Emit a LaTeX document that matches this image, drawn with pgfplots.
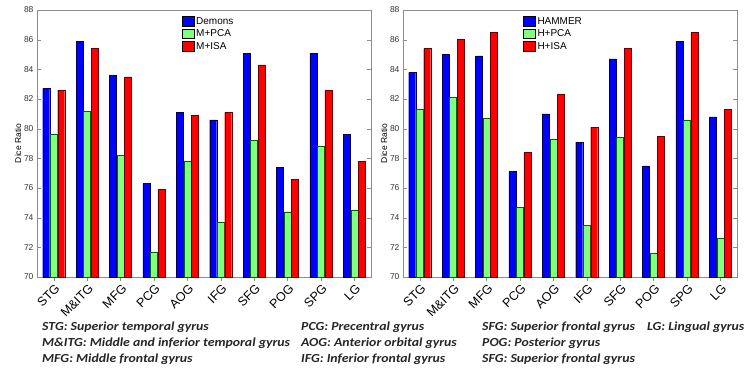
\documentclass[border=0pt]{standalone}
\usepackage{fontspec}
\setmainfont{Liberation Sans}
\newfontfamily\calib[FakeStretch=1.12]{Carlito}
\usepackage{pgfplots}
\pgfplotsset{compat=1.18}
\definecolor{mblue}{RGB}{0,0,255}
\definecolor{mgreen}{RGB}{128,255,128}
\definecolor{mred}{RGB}{255,0,0}
\definecolor{axgray}{RGB}{140,140,140}
\pgfplotsset{
  mystyle/.style={
    scale only axis, anchor=south west,
    width=334pt, height=267pt,
    ymin=70, ymax=88, ytick={70,72,...,88},
    xmin=0.5, xmax=10.5, xtick={1,...,10},
    xticklabels={STG,M\&ITG,MFG,PCG,AOG,IFG,SFG,POG,SPG,LG},
    xticklabel style={rotate=45, anchor=north east, font=\fontsize{12.5}{12.5}\selectfont, inner sep=1pt, yshift=-1pt},
    yticklabel style={font=\fontsize{8.5}{9}\selectfont, text=black!80},
    ylabel={Dice Ratio}, ylabel style={font=\fontsize{8.5}{9}\selectfont, yshift=-4pt},
    /pgf/number format/assume math mode=true,
    axis line style={axgray}, tick style={axgray}, major tick length=4pt,
    tick align=inside, xtick pos=bottom, ytick pos=both,
    ybar, bar width=7pt,
    legend cell align=left,
    legend style={draw=none, fill=none, font=\fontsize{10}{11}\selectfont, row sep=0pt, inner sep=1pt},
    legend image code/.code={\draw[##1, draw=black] (0pt,-4.5pt) rectangle (12pt,5pt);},
  }
}
\begin{document}
\begin{tikzpicture}
\useasboundingbox (0,0) rectangle (752pt,378pt);
\begin{axis}[mystyle, at={(37pt,101pt)},
  legend style={at={(0.43,0.985)}, anchor=north west}]
\addplot[fill=mblue, draw=black!70!blue, line width=0.4pt, bar shift=-7.5pt] coordinates {(1,82.7) (2,85.9) (3,83.6) (4,76.3) (5,81.1) (6,80.6) (7,85.1) (8,77.4) (9,85.1) (10,79.6)};
\addplot[fill=mgreen, draw=black!60!green, line width=0.4pt, bar shift=0pt] coordinates {(1,79.6) (2,81.2) (3,78.2) (4,71.7) (5,77.8) (6,73.7) (7,79.2) (8,74.4) (9,78.8) (10,74.5)};
\addplot[fill=mred, draw=black!60!red, line width=0.4pt, bar shift=7.5pt] coordinates {(1,82.6) (2,85.4) (3,83.5) (4,75.9) (5,80.9) (6,81.1) (7,84.3) (8,76.6) (9,82.6) (10,77.8)};
\legend{Demons,M+PCA,M+ISA}
\end{axis}
\begin{axis}[mystyle, at={(403pt,101pt)},
  legend style={at={(0.356,0.985)}, anchor=north west}]
\addplot[fill=mblue, draw=black!70!blue, line width=0.4pt, bar shift=-7.5pt] coordinates {(1,83.8) (2,85.0) (3,84.9) (4,77.1) (5,81.0) (6,79.1) (7,84.7) (8,77.5) (9,85.9) (10,80.8)};
\addplot[fill=mgreen, draw=black!60!green, line width=0.4pt, bar shift=0pt] coordinates {(1,81.3) (2,82.1) (3,80.7) (4,74.7) (5,79.3) (6,73.5) (7,79.4) (8,71.6) (9,80.6) (10,72.6)};
\addplot[fill=mred, draw=black!60!red, line width=0.4pt, bar shift=7.5pt] coordinates {(1,85.4) (2,86.0) (3,86.5) (4,78.4) (5,82.3) (6,80.1) (7,85.4) (8,79.5) (9,86.5) (10,81.3)};
\legend{HAMMER,H+PCA,H+ISA}
\end{axis}
\begin{scope}[every node/.style={anchor=west, inner sep=0pt, font=\calib\bfseries\itshape\fontsize{12.3}{12.3}\selectfont, text=black!85}]
\node at (42pt,51pt) {STG: Superior temporal gyrus};
\node at (42pt,35pt) {M\&ITG: Middle and inferior temporal gyrus};
\node at (42pt,19pt) {MFG: Middle frontal gyrus};
\node at (301pt,51pt) {PCG: Precentral gyrus};
\node at (301pt,35pt) {AOG: Anterior orbital gyrus};
\node at (301pt,19pt) {IFG: Inferior frontal gyrus};
\node at (482pt,51pt) {SFG: Superior frontal gyrus};
\node at (482pt,35pt) {POG: Posterior gyrus};
\node at (482pt,19pt) {SFG: Superior frontal gyrus};
\node at (647pt,51pt) {LG: Lingual gyrus};
\end{scope}
\end{tikzpicture}
\end{document}
